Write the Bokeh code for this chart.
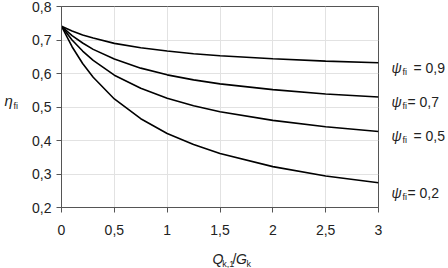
from bokeh.plotting import figure
from bokeh.layouts import row, column
from bokeh.models import FixedTicker, Label, Range1d
from bokeh.embed import file_html
from bokeh.resources import INLINE

# Load ratio Q_k,1 / G_k
xi = [0, 0.1, 0.2, 0.3, 0.5, 0.75, 1.0, 1.25, 1.5, 2.0, 2.5, 3.0]

# Reduction factor eta_fi for each combination factor psi_fi
eta_psi_09 = [0.741, 0.727, 0.715, 0.706, 0.690, 0.677, 0.667, 0.659, 0.653, 0.644, 0.637, 0.632]
eta_psi_07 = [0.741, 0.713, 0.691, 0.672, 0.643, 0.616, 0.596, 0.581, 0.569, 0.552, 0.539, 0.530]
eta_psi_05 = [0.741, 0.700, 0.667, 0.639, 0.595, 0.556, 0.526, 0.504, 0.486, 0.460, 0.441, 0.427]
eta_psi_02 = [0.741, 0.680, 0.630, 0.589, 0.524, 0.465, 0.421, 0.388, 0.361, 0.322, 0.294, 0.274]

series = [eta_psi_09, eta_psi_07, eta_psi_05, eta_psi_02]
series_names = ["= 0,9", "= 0,7", "= 0,5", "= 0,2"]

x_ticks = [0, 0.5, 1, 1.5, 2, 2.5, 3]
x_tick_labels = ["0", "0,5", "1", "1,5", "2", "2,5", "3"]
y_ticks = [0.2, 0.3, 0.4, 0.5, 0.6, 0.7, 0.8]
y_tick_labels = ["0,2", "0,3", "0,4", "0,5", "0,6", "0,7", "0,8"]

FONT = "Liberation Sans"
INK = "#222222"
AXIS = "#555555"

# overall layout (pixels)
W, H = 448, 268
LEFT_W = 20            # strip holding the y title
RIGHT_X = 385          # strip holding the curve labels starts here
MAIN_H = 248           # main chart height; x title strip below it
FRAME_L, FRAME_R, FRAME_T, FRAME_B = 61, 378, 6, 207

main_w = RIGHT_X - LEFT_W
p = figure(width=main_w, height=MAIN_H, output_backend="svg", toolbar_location=None,
           x_range=Range1d(0, 3), y_range=Range1d(0.2, 0.8),
           min_border_left=FRAME_L - LEFT_W, min_border_right=RIGHT_X - FRAME_R,
           min_border_top=FRAME_T, min_border_bottom=MAIN_H - FRAME_B)
p.background_fill_color = "white"
p.border_fill_color = "white"
p.outline_line_color = AXIS
p.outline_line_width = 1

for ax, ticks, labels in ((p.xaxis[0], x_ticks, x_tick_labels), (p.yaxis[0], y_ticks, y_tick_labels)):
    ax.ticker = FixedTicker(ticks=ticks)
    ax.major_label_overrides = {t: l for t, l in zip(ticks, labels)}
    ax.axis_line_color = AXIS
    ax.major_tick_line_color = AXIS
    ax.minor_tick_line_color = None
    ax.major_tick_in = 0
    ax.major_tick_out = 5
    ax.major_label_text_font = FONT
    ax.major_label_text_font_size = "14px"
    ax.major_label_text_color = INK
p.xaxis.major_label_standoff = 12
p.yaxis.major_label_standoff = 5

p.xgrid.grid_line_color = "#e2e2e2"
p.ygrid.grid_line_color = "#e2e2e2"

for ys in series:
    p.line(xi, ys, line_color="black", line_width=1.6)


def strip(w, h):
    """Blank text panel whose data units are its own pixels."""
    s = figure(width=w, height=h, output_backend="svg", toolbar_location=None,
               x_range=Range1d(0, w), y_range=Range1d(0, h),
               x_axis_type=None, y_axis_type=None, min_border=0)
    s.outline_line_color = None
    s.grid.visible = False
    s.background_fill_color = "white"
    s.border_fill_color = "white"
    return s


def lab(s, x0, y0, px, py, text, size, italic=False):
    s.add_layout(Label(x=px - x0, y=s.height - (py - y0), text=text,
                       text_font=FONT, text_font_size=size, text_color=INK,
                       text_font_style="italic" if italic else "normal",
                       text_align="left", text_baseline="middle"))


# y title: eta_fi
left = strip(LEFT_W, H)
lab(left, 0, 0, 4, 100, "η", "15px", italic=True)
lab(left, 0, 0, 13, 105, "fi", "9px")

# x title: Q_k,1 / G_k
bottom = strip(main_w, H - MAIN_H)
lab(bottom, LEFT_W, MAIN_H, 194, 258, "Q", "14px", italic=True)
lab(bottom, LEFT_W, MAIN_H, 205, 263, "k,1", "9px")
lab(bottom, LEFT_W, MAIN_H, 217, 258, "/", "14px")
lab(bottom, LEFT_W, MAIN_H, 221, 258, "G", "14px", italic=True)
lab(bottom, LEFT_W, MAIN_H, 233, 263, "k", "9px")

# curve labels: psi_fi = ...
right = strip(W - RIGHT_X, H)
label_y = [67, 101, 135, 192]
eq_x = [413, 407, 413, 407]
for name, ly, ex in zip(series_names, label_y, eq_x):
    lab(right, RIGHT_X, 0, 391, ly, "ψ", "14px", italic=True)
    lab(right, RIGHT_X, 0, 402, ly + 4, "fi", "9px")
    lab(right, RIGHT_X, 0, ex, ly, name, "14px")

layout = row(left, column(p, bottom, spacing=0), right, spacing=0)
open("out.html", "w").write(file_html(layout, INLINE))
